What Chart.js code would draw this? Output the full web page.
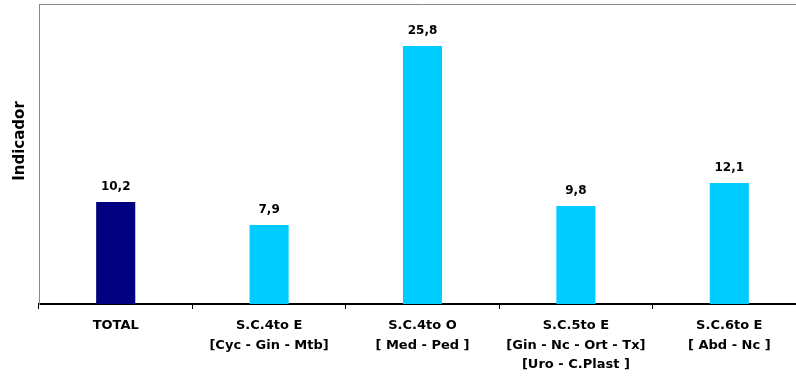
<!DOCTYPE html>
<html>
<head>
<meta charset="utf-8">
<script src="https://cdn.jsdelivr.net/npm/chart.js@4.4.1/dist/chart.umd.min.js"></script>
<style>
  html, body { margin: 0; padding: 0; background: #fff; overflow: hidden; }
  #wrap { width: 806px; height: 378px; }
</style>
</head>
<body>
<div id="wrap"><canvas id="grafico"></canvas></div>
<script>
const categorias = [
    ['TOTAL'],
    ['S.C.4to E', '[Cyc - Gin - Mtb]'],
    ['S.C.4to O', '[ Med - Ped ]'],
    ['S.C.5to E', '[Gin - Nc - Ort - Tx]', '[Uro - C.Plast ]'],
    ['S.C.6to E', '[ Abd - Nc ]']
];
const valores = [10.2, 7.9, 25.8, 9.8, 12.1];
const colores = ['#000080', '#00CCFF', '#00CCFF', '#00CCFF', '#00CCFF'];
const tituloY = 'Indicador';

const fuente = "'DejaVu Sans', Verdana, sans-serif";

// etiquetas de valor encima de cada barra, borde superior y titulo del eje
const etiquetas = {
    id: 'etiquetas',
    afterDatasetsDraw(chart) {
        const ctx = chart.ctx;
        const area = chart.chartArea;
        ctx.save();
        ctx.strokeStyle = '#888888';
        ctx.lineWidth = 1;
        ctx.beginPath();
        ctx.moveTo(area.left, area.top + 0.5);
        ctx.lineTo(area.right, area.top + 0.5);
        ctx.stroke();

        ctx.fillStyle = '#000';
        ctx.font = 'bold 12px ' + fuente;
        ctx.textAlign = 'center';
        ctx.textBaseline = 'bottom';
        chart.getDatasetMeta(0).data.forEach(function(bar, i) {
            ctx.fillText(valores[i].toFixed(1).replace('.', ','), bar.x, bar.y - 9);
        });

        ctx.translate(20, 141);
        ctx.rotate(-Math.PI / 2);
        ctx.font = 'bold 15px ' + fuente;
        ctx.textBaseline = 'middle';
        ctx.fillText(tituloY, 0, 0);
        ctx.restore();
    }
};

const ctx = document.getElementById('grafico').getContext('2d');
var myChart = new Chart(ctx, {
    type: 'bar',
    data: {
        labels: categorias,
        datasets: [{
            label: tituloY,
            data: valores,
            backgroundColor: colores,
            borderWidth: 0,
            barPercentage: 0.255,
            categoryPercentage: 1
        }]
    },
    options: {
        responsive: true,
        maintainAspectRatio: false,
        animation: false,
        layout: { padding: { top: 4, left: 0, right: 0, bottom: 0 } },
        plugins: {
            legend: { display: false },
            tooltip: { enabled: false }
        },
        scales: {
            x: {
                grid: {
                    display: true,
                    drawOnChartArea: false,
                    drawTicks: true,
                    tickLength: 5,
                    color: '#000'
                },
                border: { color: '#000', width: 2 },
                ticks: {
                    color: '#000',
                    font: { family: fuente, size: 13, weight: 'bold', lineHeight: 1.5 },
                    padding: 7,
                    maxRotation: 0,
                    autoSkip: false
                },
                afterFit: function(scale) { scale.height = 74; }
            },
            y: {
                min: 0,
                max: 30,
                grid: { display: false },
                border: { color: '#888888', width: 1 },
                ticks: { display: false },
                afterFit: function(scale) { scale.width = 39; }
            }
        }
    },
    plugins: [etiquetas]
});
</script>
</body>
</html>
